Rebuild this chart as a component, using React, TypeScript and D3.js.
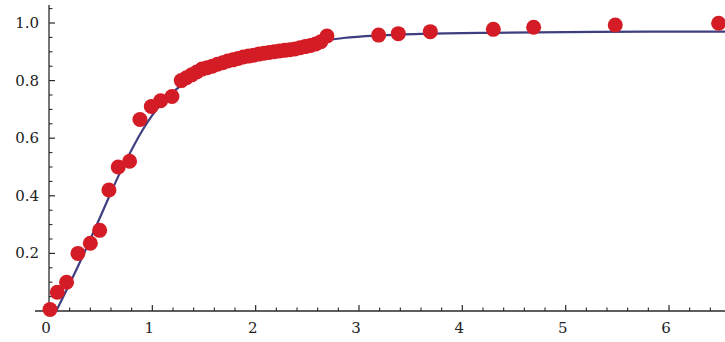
import React from 'react';
import * as d3 from 'd3';

// measured points (x, y)
const pointX = [0.01, 0.08, 0.17, 0.28, 0.40, 0.49, 0.58, 0.67, 0.78, 0.88, 0.99, 1.08, 1.19,
  1.28, 1.33, 1.38, 1.43, 1.48, 1.53, 1.58, 1.63, 1.68, 1.73, 1.78, 1.83, 1.88, 1.93, 1.98,
  2.03, 2.08, 2.13, 2.18, 2.23, 2.28, 2.33, 2.38, 2.43, 2.48, 2.53, 2.58, 2.63, 2.69,
  3.19, 3.38, 3.69, 4.30, 4.69, 5.48, 6.48];
const pointY = [0.005, 0.065, 0.10, 0.20, 0.235, 0.28, 0.42, 0.50, 0.52, 0.665, 0.71, 0.73, 0.745,
  0.80, 0.81, 0.82, 0.83, 0.84, 0.845, 0.85, 0.857, 0.862, 0.868, 0.872, 0.877, 0.882, 0.885, 0.888,
  0.892, 0.895, 0.898, 0.90, 0.903, 0.905, 0.907, 0.91, 0.914, 0.918, 0.922, 0.927, 0.935, 0.955,
  0.958, 0.963, 0.97, 0.978, 0.985, 0.993, 0.999];

// fitted curve
const fitX = [0.07, 0.3, 0.5, 0.7, 0.8, 0.9, 1.0, 1.1, 1.2, 1.4, 1.6, 1.8, 2.0, 2.3, 2.6, 2.85,
  3.2, 3.6, 4.3, 5.0, 5.8, 6.6];
const fitY = [0, 0.17, 0.33, 0.49, 0.56, 0.625, 0.68, 0.725, 0.76, 0.815, 0.85, 0.877, 0.898,
  0.918, 0.935, 0.948, 0.957, 0.962, 0.966, 0.968, 0.97, 0.97];

const xTicks = [0, 1, 2, 3, 4, 5, 6];
const yTicks = [0.2, 0.4, 0.6, 0.8, 1.0];

const width = 725;
const height = 342;

const App = () => {
  const x = d3.scaleLinear().domain([0, 6]).range([49, 669]);
  const y = d3.scaleLinear().domain([0, 1]).range([311, 23]);

  const xMinor = d3.range(0, 6.6, 0.2).filter(v => Math.abs(v - Math.round(v)) > 1e-6);
  const yMinor = d3.range(0.05, 1.06, 0.05).filter(v => Math.abs(v * 5 - Math.round(v * 5)) > 1e-6);

  const fitData = fitX.map((v, i) => [v, fitY[i]] as [number, number]);
  const line = d3.line<[number, number]>()
    .x(d => x(d[0]))
    .y(d => y(d[1]))
    .curve(d3.curveMonotoneX);

  const axisColor = '#2a2a2a';
  const font = 'DejaVu Serif, serif';

  return (
    <svg width={width} height={height}
      style={{ position: 'absolute', left: 0, top: 0, display: 'block', background: '#fff' }}>
      <defs>
        <filter id="soft" x="-20%" y="-20%" width="140%" height="140%">
          <feGaussianBlur stdDeviation="0.6" />
        </filter>
      </defs>

      {/* axes */}
      <line x1={35} x2={width} y1={y(0)} y2={y(0)} stroke={axisColor} strokeWidth={1.3} />
      <line x1={x(0)} x2={x(0)} y1={5} y2={y(0)} stroke={axisColor} strokeWidth={1.3} />

      {xTicks.filter(t => t > 0).map(t => (
        <line key={'xt' + t} x1={x(t)} x2={x(t)} y1={y(0)} y2={y(0) - 6} stroke={axisColor} strokeWidth={1.2} />
      ))}
      {xMinor.map(t => (
        <line key={'xm' + t} x1={x(t)} x2={x(t)} y1={y(0)} y2={y(0) - 3.5} stroke={axisColor} strokeWidth={1.1} />
      ))}
      {yTicks.map(t => (
        <line key={'yt' + t} x1={x(0)} x2={x(0) + 6} y1={y(t)} y2={y(t)} stroke={axisColor} strokeWidth={1.2} />
      ))}
      {yMinor.map(t => (
        <line key={'ym' + t} x1={x(0)} x2={x(0) + 3.5} y1={y(t)} y2={y(t)} stroke={axisColor} strokeWidth={1.1} />
      ))}

      {xTicks.map(t => (
        <text key={'xl' + t} x={x(t) - 3} y={y(0) + 17} textAnchor="middle" dominantBaseline="central"
          fontFamily={font} fontSize={15} fill="#222">{t}</text>
      ))}
      {yTicks.map(t => (
        <text key={'yl' + t} x={39} y={y(t)} textAnchor="end" dominantBaseline="central"
          fontFamily={font} fontSize={15} fill="#222">{t.toFixed(1)}</text>
      ))}

      {/* fitted curve */}
      <path d={line(fitData) || ''} fill="none" stroke="#3e3e80" strokeWidth={2.2} />

      {/* data points */}
      <g filter="url(#soft)">
        {pointX.map((v, i) => (
          <circle key={'p' + i} cx={x(v)} cy={y(pointY[i])} r={7.5} fill="#d41b25" />
        ))}
      </g>
    </svg>
  );
};

export default App;
